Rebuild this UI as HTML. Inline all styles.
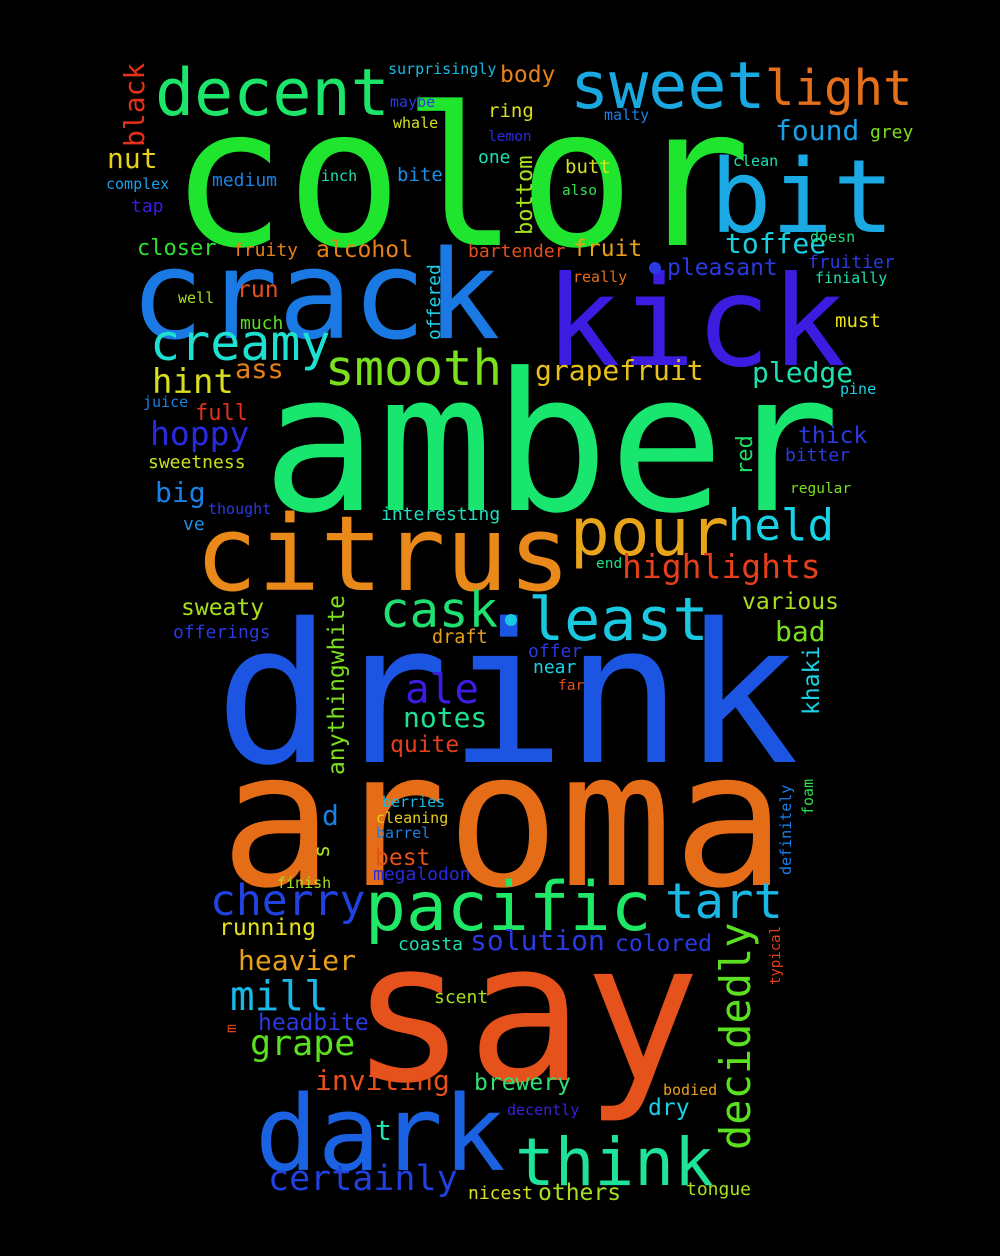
<!DOCTYPE html>
<html><head><meta charset="utf-8"><style>
html,body{margin:0;padding:0;background:#000;}
svg{display:block;}
text{font-family:"DejaVu Sans Mono","Liberation Mono",monospace;}
</style></head><body>
<svg id="cloud" width="1000" height="1256" xmlns="http://www.w3.org/2000/svg">
<rect width="1000" height="1256" fill="#000"/>
</svg>
<script>
const words=["color","amber","drink","aroma","say","crack","kick","bit","citrus","dark","think","pacific","decent","sweet","light","pour","least","cask","held","smooth","creamy","cherry","tart","mill","grape","certainly","highlights","ale","notes","hint","hoppy","grapefruit","pledge","toffee","found","pleasant","fruit","alcohol","closer","fruity","bartender","nut","body","ring","one","butt","also","lemon","whale","maybe","surprisingly","malty","grey","clean","doesn","fruitier","finially","must","pine","thick","bitter","regular","various","bad","red","khaki","foam","definitely","typical","decidedly","anythingwhite","offered","bottom","black","s","m","inch","bite","medium","complex","tap","run","well","much","really","ass","juice","full","sweetness","big","thought","ve","interesting","end","sweaty","offerings","draft","offer","near","far","quite","d","berries","cleaning","barrel","best","megalodon","finish","running","solution","colored","coasta","heavier","scent","headbite","inviting","brewery","bodied","dry","decently","t","nicest","others","tongue"];
const sizes=[193,192,194,188,194,123,125,102,104,104,66,68,65,65,49,66,60,49,44,49,50,43,49,41,35,35,33,41,28,34,33,28,28,28,28,23,23,23,22,18,18,28,23,19,18,19,14.5,14.5,15,15,15,15,18,15,15,18,15,19,15,23,18,14.5,23,28,22,23,15,15,14,42,23,18,22,28,22,15,15,19,18,15,18,23,15,18,15,27,15,22,18,28,15,18,18,14.5,23,18,18.5,18,18,14.5,23,28,15,15,15,23,18,15,23,28,23,18,28,18,23,28,23,15,23,15,28,18,23,18];
const xs=[170,262,215,220,350,130,545,710,195,255,515,365,155,570,765,570,528,380,728,325,150,210,665,230,250,268,622,405,403,152,150,535,752,725,775,667,573,316,137,233,468,107,500,488,478,565,562,488,393,390,388,604,870,733,810,808,815,835,840,798,785,790,742,775,752,819,813,791,780,750,344,440,532,144,329,236,321,397,212,106,131,237,178,240,573,235,143,195,148,155,208,183,381,596,181,173,432,528,533,558,390,322,382,376,376,375,373,277,219,470,615,398,238,434,258,315,474,663,648,507,375,468,538,686];
const ys=[245,510,762,885,1080,338,365,232,590,1170,1185,930,115,108,105,555,640,627,540,385,360,915,918,1010,1055,1190,578,703,727,393,445,380,382,253,140,275,256,257,255,256,257,168,82,117,163,173,195,141,128,107,74,120,138,166,242,268,283,327,394,443,461,493,609,641,475,715,815,875,985,1150,775,340,235,147,858,1033,181,181,186,189,212,297,303,329,282,378,407,420,468,502,514,530,520,568,615,638,643,657,673,690,752,825,807,823,838,865,880,888,935,950,951,950,970,1003,1030,1090,1090,1095,1115,1115,1140,1199,1200,1195];
const vertical=["red","khaki","foam","definitely","typical","decidedly","anythingwhite","offered","bottom","black","s","m"];
const colors={color:"#1fe52f",amber:"#19e66e",drink:"#1b55e2",aroma:"#e66d17",say:"#e5521b",crack:"#1b79e3",kick:"#3a1de0",bit:"#1aa9e3",citrus:"#e8891a",dark:"#1b62e3",think:"#1ee49a",pacific:"#1ee866",decent:"#1de56a",sweet:"#1aa8e0",light:"#e5701b",pour:"#e8a51a",least:"#1ac8e0",cask:"#1fe070",held:"#1ad2e6",smooth:"#7ae01e",creamy:"#1ee0d0",cherry:"#2042e0",tart:"#1ab8e6",mill:"#1ab8e6",grape:"#5ae01e",certainly:"#2040e0",highlights:"#e5401b",ale:"#3a1de0",notes:"#1ee090",hint:"#d8e01e",hoppy:"#2a2ae0",grapefruit:"#e8c01a",pledge:"#1ee0b0",toffee:"#1ad0e0",found:"#1aa0e6",pleasant:"#2a3ae0",fruit:"#e8a01a",alcohol:"#e8801a",closer:"#2ee030",fruity:"#e8801a",bartender:"#e5501b",nut:"#e8d01a",body:"#e8801a",ring:"#d8e01e",one:"#1ee0b0",butt:"#d8e01e",also:"#2ee050",lemon:"#2a2ae0",whale:"#d8e01e",maybe:"#2a3ae0",surprisingly:"#1ab8e6",malty:"#1a80e6",grey:"#7ae01e",clean:"#1ee0b0",doesn:"#1ee080",fruitier:"#2a3ae0",finially:"#1ee0b0",must:"#e8e01a",pine:"#1ad2e6",thick:"#2a3ae0",bitter:"#2a3ae0",regular:"#7ae01e",various:"#a8e01e",bad:"#7ae01e",red:"#1ee066",khaki:"#1ad2e6",foam:"#2ee050",definitely:"#1a80e6",typical:"#e5401b",decidedly:"#5ae01e",anythingwhite:"#7ae01e",offered:"#1ad2e6",bottom:"#a8e01e",black:"#e5301b",s:"#a8e01e",m:"#e5401b",inch:"#1ee0b0",bite:"#1a90e6",medium:"#1a80e6",complex:"#1aa0e6",tap:"#3a1de0",run:"#e5501b",well:"#a8e01e",much:"#5ae01e",really:"#e5701b",ass:"#e8801a",juice:"#1a80e6",full:"#e5301b",sweetness:"#c8e01e",big:"#1a80e6",thought:"#2a3ae0",ve:"#1a90e6",interesting:"#1ee0c0",end:"#1ee080",sweaty:"#a8e01e",offerings:"#2a3ae0",draft:"#e8a01a",offer:"#2a3ae0",near:"#1ad2e6",far:"#e5501b",quite:"#e5401b",d:"#1a80e6",berries:"#1ab8e6",cleaning:"#e8d01a",barrel:"#1a80e6",best:"#e5501b",megalodon:"#2a2ae0",finish:"#a8e01e",running:"#e8e01a",solution:"#2a3ae0",colored:"#2a3ae0",coasta:"#1ee0b0",heavier:"#e8a01a",scent:"#a8e01e",headbite:"#2a3ae0",inviting:"#e5501b",brewery:"#2ee070",bodied:"#e8a01a",dry:"#1ad2e6",decently:"#3a1de0",t:"#1ee0b0",nicest:"#d8e01e",others:"#a8e01e",tongue:"#a8e01e"};
const svg=document.getElementById('cloud');
const NS="http://www.w3.org/2000/svg";
words.forEach((w,i)=>{
  const t=document.createElementNS(NS,'text');
  t.textContent=w;
  t.setAttribute('font-size',sizes[i]);
  t.setAttribute('fill',colors[w]||'#1ee080');
  if(vertical.includes(w)){
    t.setAttribute('transform','translate('+xs[i]+','+ys[i]+') rotate(-90)');
  }else{
    t.setAttribute('x',xs[i]);t.setAttribute('y',ys[i]);
  }
  
  
  svg.appendChild(t);
});
const dots=[[511,620,6,"#1ac8e0"],[655,268,6,"#2a3ae0"]];
dots.forEach(d=>{
  const c=document.createElementNS(NS,'circle');
  c.setAttribute('cx',d[0]);c.setAttribute('cy',d[1]);c.setAttribute('r',d[2]);c.setAttribute('fill',d[3]);
  
  
  svg.appendChild(c);
});
</script>
</body></html>
